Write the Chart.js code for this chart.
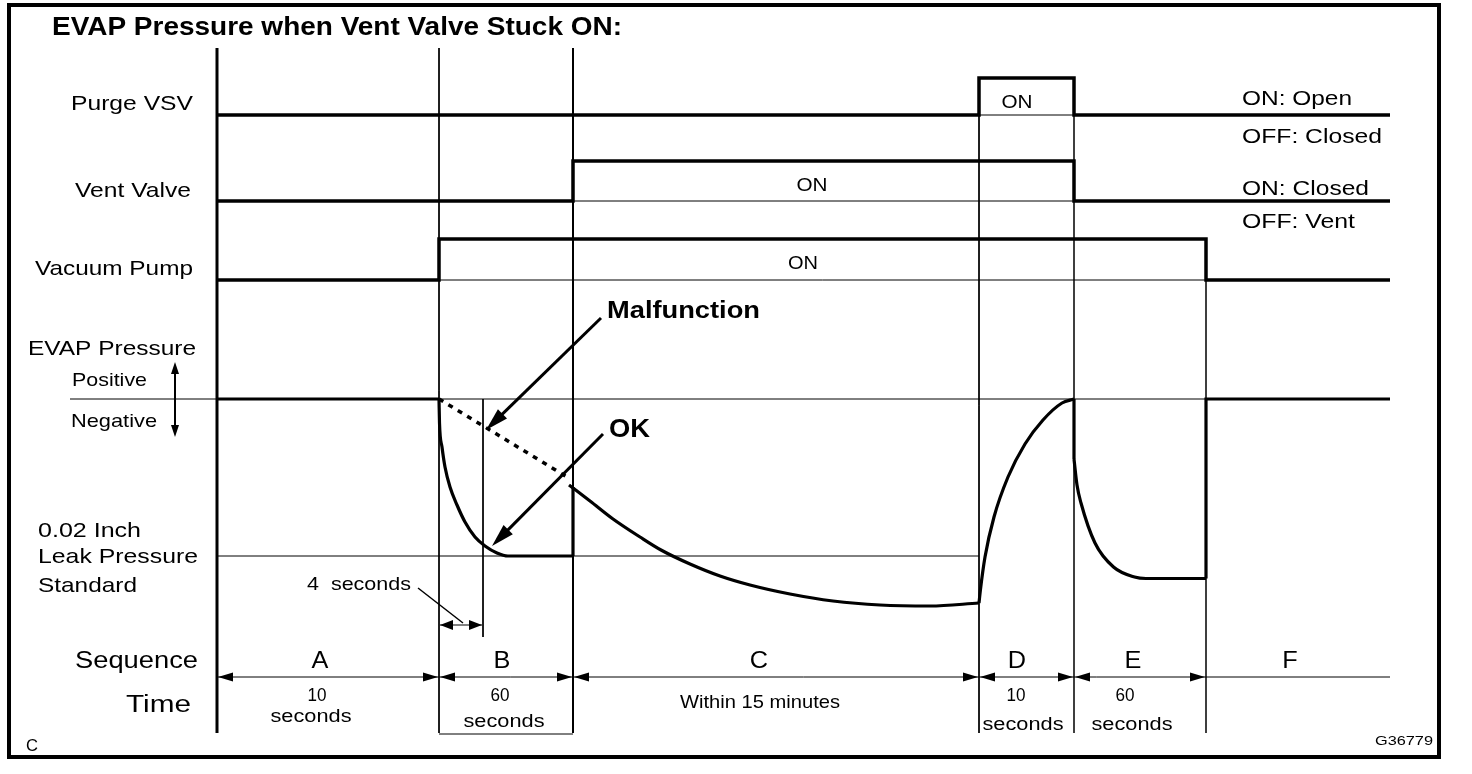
<!DOCTYPE html>
<html>
<head>
<meta charset="utf-8">
<script src="https://cdn.jsdelivr.net/npm/chart.js@4/dist/chart.umd.min.js"></script>
<style>
  html, body { margin: 0; padding: 0; background: #fff; }
  #wrap { width: 1472px; height: 774px; }
</style>
</head>
<body>
<div id="wrap"><canvas id="evapChart" width="1472" height="774"></canvas></div>
<script>
// phase boundaries in diagram units (0 = start of A)
const phases = ['A', 'B', 'C', 'D', 'E', 'F'];
const phaseEdges = [0, 22.2, 35.6, 76.2, 85.7, 98.9, 117.3];
const phaseTimes = [['10', 'seconds'], ['60', 'seconds'], ['Within 15 minutes'], ['10', 'seconds'], ['60', 'seconds'], []];

// 1 = ON, 0 = OFF, one value per phase
const purgeVsv = [0, 0, 0, 1, 0, 0];
const ventValve = [0, 0, 1, 1, 0, 0];
const vacuumPump = [0, 1, 1, 1, 1, 0];

// check point, 4 seconds into B
const checkTime = 26.6;

// EVAP pressure relative to the atmospheric line (negative = vacuum)
const leakStandard = -15.7;
const pressureA = [[0, 0], [22.2, 0]];
const pressureB = [[22.2, 0], [22.25, -2.4], [22.5, -4.8], [22.8, -6.8], [23.3, -8.8], [24.0, -10.6], [24.8, -12.3],
  [25.8, -13.8], [26.8, -14.7], [28.0, -15.4], [29.1, -15.7], [35.6, -15.7]];
const pressureBStep = [[35.6, -15.7], [35.6, -8.8]];
const pressureC = [[35.2, -8.6], [37.3, -10.2], [39.6, -12.0], [42.3, -13.8], [44.4, -15.1], [47.3, -16.5],
  [50.3, -17.7], [53.3, -18.6], [57.3, -19.5], [61.6, -20.2], [66.3, -20.6], [71.3, -20.7], [76.2, -20.4]];
const pressureD = [[76.2, -20.4], [76.34, -19.1], [76.8, -15.8], [77.7, -11.8], [79.1, -7.8], [80.8, -4.5],
  [82.6, -2.1], [84.5, -0.4], [85.7, 0]];
const pressureDStep = [[85.7, 0], [85.7, -6.0]];
const pressureE = [[85.7, -6.0], [86.0, -8.6], [86.4, -10.4], [87.8, -14.4], [89.65, -16.8], [91.75, -17.8],
  [92.9, -17.95], [98.9, -17.95]];
const pressureF = [[98.9, -17.95], [98.9, 0], [117.3, 0]];
const malfunction = [[22.2, 0], [35.0, -7.8]];

// lane levels on the y axis [OFF, ON]
const LANE_PURGE = [61.8, 65.5];
const LANE_VENT = [53.2, 57.2];
const LANE_PUMP = [45.3, 49.4];
const P_ZERO = 33.4;
const SEQ_Y = 5.6;
const Y_TOP = 68.5;

const pt = (x, y) => ({ x, y });

function stepLine(states, lane) {
  const pts = [];
  states.forEach((s, i) => {
    const y = s ? lane[1] : lane[0];
    pts.push(pt(phaseEdges[i], y), pt(phaseEdges[i + 1], y));
  });
  return pts;
}

function press(arr) {
  return arr.map(p => pt(p[0], P_ZERO + p[1]));
}

function line(data, width, extra) {
  return Object.assign({ data, borderColor: '#000', borderWidth: width, pointRadius: 0, showLine: true, tension: 0, clip: false }, extra || {});
}

const xEnd = phaseEdges[phaseEdges.length - 1];
const datasets = [];

// thin reference lines
datasets.push(line([pt(0, LANE_PURGE[0]), pt(xEnd, LANE_PURGE[0])], 1));
datasets.push(line([pt(phaseEdges[2], LANE_VENT[0]), pt(phaseEdges[4], LANE_VENT[0])], 1));
datasets.push(line([pt(phaseEdges[1], LANE_PUMP[0]), pt(phaseEdges[5], LANE_PUMP[0])], 1));
datasets.push(line([pt(-14.7, P_ZERO), pt(xEnd, P_ZERO)], 1));
datasets.push(line([pt(0, P_ZERO + leakStandard), pt(phaseEdges[3], P_ZERO + leakStandard)], 1));
datasets.push(line([pt(0, SEQ_Y), pt(xEnd, SEQ_Y)], 1));
datasets.push(line([pt(checkTime, P_ZERO), pt(checkTime, 9.6)], 1));

// phase boundary lines
const edgeWidths = [3, 1, 2, 1, 1.5, 1.5];
phaseEdges.slice(0, 6).forEach((x, i) => {
  const top = i < 3 ? Y_TOP : (i < 5 ? LANE_PURGE[1] : LANE_PUMP[1]);
  datasets.push(line([pt(x, top), pt(x, 0)], edgeWidths[i]));
});

// signals
datasets.push(line(stepLine(purgeVsv, LANE_PURGE), 3.5));
datasets.push(line(stepLine(ventValve, LANE_VENT), 3.5));
datasets.push(line(stepLine(vacuumPump, LANE_PUMP), 3.5));

// EVAP pressure
[pressureA, pressureBStep, pressureDStep, pressureF].forEach(a => datasets.push(line(press(a), 3.2)));
[pressureB, pressureC, pressureD, pressureE].forEach(a => datasets.push(line(press(a), 3.2, { cubicInterpolationMode: 'monotone' })));
datasets.push(line(press(malfunction), 3.5, { borderDash: [5, 6], borderCapStyle: 'butt' }));

function txt(ctx, s, x, y, size, align, w, bold) {
  ctx.save();
  ctx.font = (bold ? 'bold ' : '') + size + 'px "Liberation Sans", Arial, sans-serif';
  const mw = ctx.measureText(s).width;
  const sx = w ? w / mw : 1.1;
  const full = mw * sx;
  let left = x;
  if (align === 'center') left = x - full / 2;
  else if (align === 'right') left = x - full;
  ctx.translate(left, y);
  ctx.scale(sx, 1);
  ctx.fillStyle = '#000';
  ctx.textAlign = 'left';
  ctx.textBaseline = 'alphabetic';
  ctx.fillText(s, 0, 0);
  ctx.restore();
}

function head(ctx, x1, y1, x2, y2, len, half) {
  const a = Math.atan2(y2 - y1, x2 - x1);
  const bx = x2 - len * Math.cos(a), by = y2 - len * Math.sin(a);
  ctx.beginPath();
  ctx.moveTo(x2, y2);
  ctx.lineTo(bx + half * Math.sin(a), by - half * Math.cos(a));
  ctx.lineTo(bx - half * Math.sin(a), by + half * Math.cos(a));
  ctx.closePath();
  ctx.fill();
}

function arrow(ctx, x1, y1, x2, y2, len, half, lw) {
  const a = Math.atan2(y2 - y1, x2 - x1);
  ctx.lineWidth = lw;
  ctx.beginPath();
  ctx.moveTo(x1, y1);
  ctx.lineTo(x2 - (len - 2) * Math.cos(a), y2 - (len - 2) * Math.sin(a));
  ctx.stroke();
  head(ctx, x1, y1, x2, y2, len, half);
}

const labels = [
  ['EVAP Pressure when Vent Valve Stuck ON:', 52, 35, 25, 'left', 570, true],
  ['Purge VSV', 193, 110, 21, 'right', 122],
  ['Vent Valve', 191, 197, 21, 'right', 116],
  ['Vacuum Pump', 193, 275, 21, 'right', 158],
  ['EVAP Pressure', 28, 355, 21, 'left', 168],
  ['Positive', 72, 386, 19, 'left', 75],
  ['Negative', 71, 427, 19, 'left', 86],
  ['0.02 Inch', 38, 537, 21, 'left', 103],
  ['Leak Pressure', 38, 563, 21, 'left', 160],
  ['Standard', 38, 592, 21, 'left', 99],
  ['4  seconds', 307, 590, 19, 'left', 104],
  ['Malfunction', 607, 318, 24, 'left', 153, true],
  ['OK', 609, 437, 25, 'left', 41, true],
  ['ON: Open', 1242, 105, 20, 'left', 110],
  ['OFF: Closed', 1242, 143, 20, 'left', 140],
  ['ON: Closed', 1242, 195, 20, 'left', 127],
  ['OFF: Vent', 1242, 228, 20, 'left', 113],
  ['ON', 1017, 108, 18, 'center', 31],
  ['ON', 812, 191, 18, 'center', 31],
  ['ON', 803, 269, 18, 'center', 30],
  ['Sequence', 198, 668, 23, 'right', 123],
  ['Time', 191, 712, 23, 'right', 65],
  ['C', 26, 751, 16, 'left', 12],
  ['G36779', 1433, 745, 13, 'right', 58]
];
const letterX = [320, 502, 759, 1017, 1133, 1290];
const timeX = [[317, 311], [500, 504], [760], [1016, 1023], [1125, 1132], []];
const secondsY = [722, 727, 0, 730, 730];

const drawingPlugin = {
  id: 'drawing',
  afterDraw(chart) {
    const ctx = chart.ctx;
    const xs = chart.scales.x, ys = chart.scales.y;
    ctx.save();
    ctx.strokeStyle = '#000';
    ctx.fillStyle = '#000';

    // frame
    ctx.lineWidth = 4;
    ctx.strokeRect(9, 5, 1430, 752);

    labels.forEach(l => txt(ctx, l[0], l[1], l[2], l[3], l[4], l[5], l[6]));

    // sequence letters and times
    phases.forEach((p, i) => {
      txt(ctx, p, letterX[i], 668, 23, 'center', null);
      const t = phaseTimes[i];
      if (t.length === 2) {
        txt(ctx, t[0], timeX[i][0], 701, 18, 'center', 19);
        txt(ctx, t[1], timeX[i][1], secondsY[i], 18, 'center', 81);
      } else if (t.length === 1) {
        txt(ctx, t[0], timeX[i][0], 708, 19, 'center', 160);
      }
    });

    // sequence arrows
    const sy = ys.getPixelForValue(SEQ_Y);
    for (let i = 0; i < 5; i++) {
      const l = xs.getPixelForValue(phaseEdges[i]) + 1;
      const r = xs.getPixelForValue(phaseEdges[i + 1]) - 1;
      head(ctx, l + 10, sy, l, sy, 15, 4.5);
      head(ctx, r - 10, sy, r, sy, 15, 4.5);
    }

    // B box bottom
    ctx.lineWidth = 1;
    ctx.beginPath();
    ctx.moveTo(xs.getPixelForValue(phaseEdges[1]), ys.getPixelForValue(-0.1));
    ctx.lineTo(xs.getPixelForValue(phaseEdges[2]), ys.getPixelForValue(-0.1));
    ctx.stroke();

    // 4 seconds dimension
    const d1 = xs.getPixelForValue(phaseEdges[1]) + 1, d2 = xs.getPixelForValue(checkTime) - 1, dy = 625;
    ctx.beginPath();
    ctx.moveTo(d1, dy);
    ctx.lineTo(d2, dy);
    ctx.stroke();
    head(ctx, d1 + 10, dy, d1, dy, 13, 5);
    head(ctx, d2 - 10, dy, d2, dy, 13, 5);
    ctx.lineWidth = 1.5;
    ctx.beginPath();
    ctx.moveTo(418, 588);
    ctx.lineTo(463, 623);
    ctx.stroke();

    // positive / negative arrow
    ctx.lineWidth = 2;
    ctx.beginPath();
    ctx.moveTo(175, 370);
    ctx.lineTo(175, 429);
    ctx.stroke();
    head(ctx, 175, 380, 175, 362, 12, 4);
    head(ctx, 175, 420, 175, 437, 12, 4);

    // callouts
    arrow(ctx, 601, 318, xs.getPixelForValue(26.9), 430, 23, 6.5, 3);
    arrow(ctx, 603, 434, xs.getPixelForValue(27.5), 546, 23, 6.5, 3);

    ctx.restore();
  }
};

new Chart(document.getElementById('evapChart'), {
  type: 'scatter',
  data: { datasets },
  options: {
    responsive: false,
    animation: false,
    events: [],
    layout: { padding: { left: 30, right: 82, top: 48, bottom: 41 } },
    plugins: { legend: { display: false }, tooltip: { enabled: false }, title: { display: false } },
    scales: {
      x: { type: 'linear', display: false, min: -18.7, max: xEnd },
      y: { type: 'linear', display: false, min: 0, max: Y_TOP }
    }
  },
  plugins: [drawingPlugin]
});
</script>
</body>
</html>
